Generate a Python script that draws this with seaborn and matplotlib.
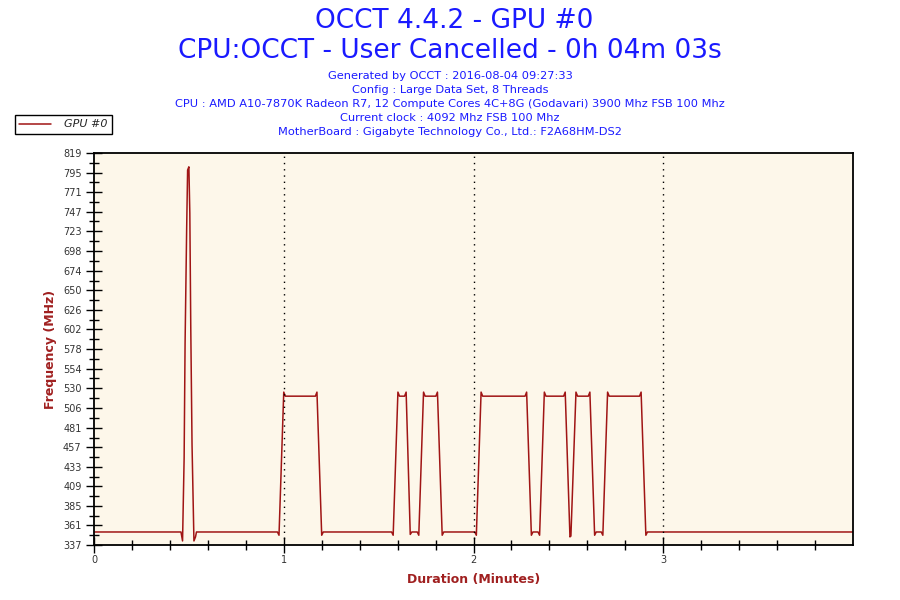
import numpy as np
import pandas as pd
import seaborn as sns
import matplotlib
matplotlib.use("Agg")
import matplotlib.pyplot as plt
from matplotlib.ticker import FixedLocator, MultipleLocator

# GPU #0 clock: time in seconds, frequency in MHz
time_s = [0, 27.5, 28.0, 28.5, 28.8, 29.3, 29.6, 30.0, 30.3, 30.6, 31.0, 31.6, 32.1, 32.4,
          58.0, 58.5, 60.0, 60.5, 70.0, 70.5, 72.0, 72.5,
          94.1, 94.6, 96.1, 96.6, 98.2, 98.7, 100.0, 100.5,
          102.2, 102.7, 104.2, 104.7, 108.1, 108.6, 110.1, 110.6,
          120.4, 120.9, 122.4, 122.9, 136.3, 136.8, 138.3, 138.8,
          140.4, 140.9, 142.4, 142.9, 148.5, 149.0, 150.5,
          150.8, 152.4, 152.9, 156.3, 156.8, 158.3, 158.8,
          160.4, 160.9, 162.4, 162.9, 172.5, 173.0, 174.5, 175.0, 243.0]
freq_mhz = [353, 353, 342, 444, 585, 726, 798, 802, 745, 604, 460, 342, 347, 353,
            353, 349, 525, 520, 520, 525, 349, 353,
            353, 349, 525, 520, 520, 525, 350, 353,
            353, 349, 525, 520, 520, 525, 349, 353,
            353, 349, 525, 520, 520, 525, 349, 353,
            353, 349, 525, 520, 520, 525, 347,
            348, 525, 520, 520, 525, 349, 353,
            353, 349, 525, 520, 520, 525, 349, 353, 353]

ytick_values = [337, 361, 385, 409, 433, 457, 481, 506, 530, 554, 578,
                602, 626, 650, 674, 698, 723, 747, 771, 795, 819]
xtick_values = [0, 1, 2, 3]

title_lines = ["OCCT 4.4.2 - GPU #0", "CPU:OCCT - User Cancelled - 0h 04m 03s"]
info_lines = ["Generated by OCCT : 2016-08-04 09:27:33",
              "Config : Large Data Set, 8 Threads",
              "CPU : AMD A10-7870K Radeon R7, 12 Compute Cores 4C+8G (Godavari) 3900 Mhz FSB 100 Mhz",
              "Current clock : 4092 Mhz FSB 100 Mhz",
              "MotherBoard : Gigabyte Technology Co., Ltd.: F2A68HM-DS2"]

df = pd.DataFrame({"minutes": np.array(time_s) / 60.0, "freq": freq_mhz})

sns.set_style("white")
plt.rcParams['font.family'] = ['DejaVu Sans']

fig = plt.figure(figsize=(9, 6), dpi=100)
ax = fig.add_axes([94 / 900, 1 - 545 / 600, (853 - 94) / 900, (545 - 153) / 600])
ax.set_facecolor("#fdf7ea")

line_color = "#a01515"
sns.lineplot(data=df, x="minutes", y="freq", ax=ax, color=line_color,
             linewidth=1.1, label="GPU #0", legend=False)

ax.set_xlim(0, 4)
ax.set_ylim(ytick_values[0], ytick_values[-1])
ax.set_yticks(ytick_values)
ax.set_yticklabels([str(v) for v in ytick_values])
ax.yaxis.set_minor_locator(FixedLocator(
    [(a + b) / 2 for a, b in zip(ytick_values[:-1], ytick_values[1:])]))
ax.set_xticks(xtick_values)
ax.set_xticklabels([str(v) for v in xtick_values])
ax.xaxis.set_minor_locator(FixedLocator(
    [v for v in np.arange(0.2, 4.0, 0.2) if abs(v - round(v)) > 1e-6]))

ax.tick_params(axis="both", which="both", bottom=True, left=True, top=False, right=False)
ax.tick_params(axis="both", which="major", direction="inout", length=12, width=1,
               labelsize=7, labelcolor="#333333", color="black")
ax.tick_params(axis="both", which="minor", direction="inout", length=7, width=1,
               color="black")
ax.tick_params(axis="x", which="major", pad=1)
ax.tick_params(axis="y", which="major", pad=3)

# dotted markers at each full minute
for m in xtick_values[1:]:
    ax.axvline(m, color="black", linestyle=(0, (1, 3.5)), linewidth=1)

for side in ax.spines.values():
    side.set_color("black")
    side.set_linewidth(1.3)

label_color = "#a02020"
ax.set_xlabel("Duration (Minutes)", color=label_color, fontsize=9, fontweight="bold",
              labelpad=6)
ax.set_ylabel("Frequency (MHz)", color=label_color, fontsize=9, fontweight="bold",
              labelpad=4)

blue = "#1a1aff"
fig.text(0.505, 1 - 21 / 600, title_lines[0], ha="center", va="center", color=blue, fontsize=19)
fig.text(0.5, 1 - 51 / 600, title_lines[1], ha="center", va="center", color=blue, fontsize=19)
for i, txt in enumerate(info_lines):
    fig.text(0.5, 1 - (76 + 14 * i) / 600, txt, ha="center", va="center",
             color=blue, fontsize=8.2)

handles, labels = ax.get_legend_handles_labels()
leg = fig.legend(handles, labels, loc="upper left", bbox_to_anchor=(15 / 900, 1 - 115 / 600),
                 fancybox=False, edgecolor="black", framealpha=1, borderpad=0.4,
                 handlelength=2.8, handletextpad=1.2, borderaxespad=0,
                 prop={"style": "italic", "size": 8})
leg.get_frame().set_linewidth(1)

fig.savefig("out.png", dpi=100, facecolor="white")
